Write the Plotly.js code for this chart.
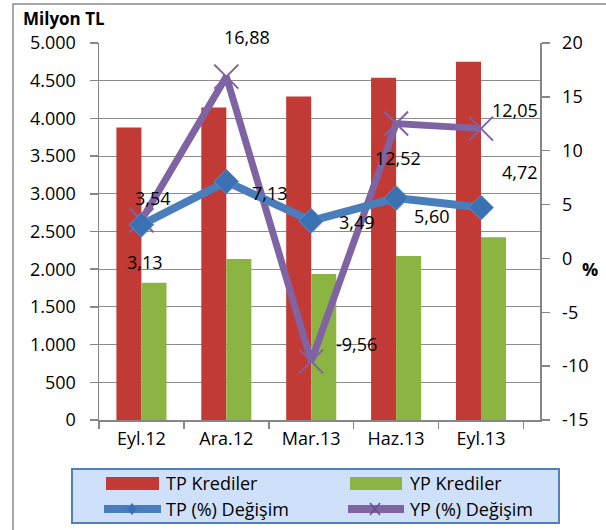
<!DOCTYPE html>
<html>
<head>
<meta charset="utf-8">
<script src="https://cdn.plot.ly/plotly-3.0.1.min.js"></script>
<style>html,body{margin:0;padding:0;background:#fff;}#chart{width:606px;height:530px;}</style>
</head>
<body>
<div id="chart"></div>
<script>
// ---- data ----
const categories = ["Eyl.12", "Ara.12", "Mar.13", "Haz.13", "Eyl.13"];
const tpKrediler = [3880, 4145, 4290, 4540, 4750];
const ypKrediler = [1820, 2135, 1935, 2175, 2425];
const tpDegisim = [3.13, 7.13, 3.49, 5.60, 4.72];
const ypDegisim = [3.54, 16.88, -9.56, 12.52, 12.05];
const leftTickVals = [0, 500, 1000, 1500, 2000, 2500, 3000, 3500, 4000, 4500, 5000];
const leftTickText = ["0", "500", "1.000", "1.500", "2.000", "2.500", "3.000", "3.500", "4.000", "4.500", "5.000"];
const rightTickVals = [-15, -10, -5, 0, 5, 10, 15, 20];
const rightTickText = ["-15", "-10", "-5", "0", "5", "10", "15", "20"];
const seriesNames = ["TP Krediler", "YP Krediler", "TP (%) Değişim", "YP (%) Değişim"];

// ---- styling / layout helpers ----
const W = 606, H = 530;
const M = {l: 99, r: 66, t: 43, b: 110};
const PW = W - M.l - M.r, PH = H - M.t - M.b;
const PX = x => (x - M.l) / PW;
const PY = y => (H - M.b - y) / PH;
const FONT = '"Open Sans", "Liberation Sans", sans-serif';
const RED = '#c23a35', GREEN = '#8cb443', BLUE = '#4a7ebb', PURPLE = '#7f63a3';
const fmt = v => v.toFixed(2).replace('.', ',');

// label offsets (px) for data labels
const tpOff = [[4, 37], [44, 11], [46, 1], [36, 18], [39, -36]];
const ypOff = [[12, -22], [21, -40], [45, -17], [2, 34], [34, -19]];

const traces = [
  {type: 'bar', name: seriesNames[0], x: categories, y: tpKrediler, yaxis: 'y',
   marker: {color: RED}, showlegend: false, hoverinfo: 'skip'},
  {type: 'bar', name: seriesNames[1], x: categories, y: ypKrediler, yaxis: 'y',
   marker: {color: GREEN}, showlegend: false, hoverinfo: 'skip'},
  {type: 'scatter', mode: 'lines+markers', name: seriesNames[3], x: categories, y: ypDegisim, yaxis: 'y2',
   line: {color: PURPLE, width: 7}, marker: {symbol: 'x-thin-open', size: 24, line: {color: PURPLE, width: 2}, color: PURPLE},
   showlegend: false, cliponaxis: false},
  {type: 'scatter', mode: 'lines+markers', name: seriesNames[2], x: categories, y: tpDegisim, yaxis: 'y2',
   line: {color: BLUE, width: 8}, marker: {symbol: 'diamond', size: 19, color: '#3b70b3', line: {color: '#5b8fd0', width: 1}},
   showlegend: false, cliponaxis: false}
];

const annotations = [];
tpDegisim.forEach((v, i) => annotations.push({x: categories[i], y: v, xref: 'x', yref: 'y2', text: fmt(v),
  showarrow: false, xshift: tpOff[i][0], yshift: -tpOff[i][1], font: {family: FONT, size: 18, color: '#000'}}));
ypDegisim.forEach((v, i) => annotations.push({x: categories[i], y: v, xref: 'x', yref: 'y2', text: fmt(v),
  showarrow: false, xshift: ypOff[i][0], yshift: -ypOff[i][1], font: {family: FONT, size: 18, color: '#000'}}));

annotations.push({xref: 'paper', yref: 'paper', x: PX(22), y: PY(19), xanchor: 'left', yanchor: 'middle',
  text: '<b>Milyon TL</b>', showarrow: false, borderpad: 0, font: {family: FONT, size: 17, color: '#000'}});
annotations.push({xref: 'paper', yref: 'paper', x: PX(590), y: PY(269), xanchor: 'center', yanchor: 'middle',
  text: '<b>%</b>', showarrow: false, font: {family: FONT, size: 18, color: '#000'}});

// custom legend
const legPos = [[164, 483], [408, 483], [164, 509], [408, 509]];
seriesNames.forEach((n, i) => annotations.push({xref: 'paper', yref: 'paper', x: PX(legPos[i][0]), y: PY(legPos[i][1]),
  xanchor: 'left', yanchor: 'middle', text: n, showarrow: false, font: {family: FONT, size: 18, color: '#000'}}));

const P = (x, y) => PX(x) + ',' + PY(y);
const shapes = [
  {type: 'rect', xref: 'paper', yref: 'paper', x0: PX(13), x1: PX(625), y0: PY(4), y1: PY(545),
   line: {color: '#8a8a8a', width: 1.5}},
  {type: 'rect', xref: 'paper', yref: 'paper', x0: PX(72), x1: PX(559), y0: PY(469), y1: PY(523),
   fillcolor: '#cfe0fa', line: {color: '#4f81bd', width: 2}},
  {type: 'rect', xref: 'paper', yref: 'paper', x0: PX(106), x1: PX(159), y0: PY(477), y1: PY(490),
   fillcolor: RED, line: {width: 0}},
  {type: 'rect', xref: 'paper', yref: 'paper', x0: PX(350), x1: PX(402), y0: PY(477), y1: PY(490),
   fillcolor: GREEN, line: {width: 0}},
  {type: 'rect', xref: 'paper', yref: 'paper', x0: PX(104), x1: PX(161), y0: PY(505), y1: PY(513),
   fillcolor: BLUE, line: {width: 0}},
  {type: 'path', xref: 'paper', yref: 'paper', path: 'M' + P(127, 509) + 'L' + P(132, 503) + 'L' + P(137, 509) + 'L' + P(132, 515) + 'Z',
   fillcolor: '#3b70b3', line: {width: 0}},
  {type: 'rect', xref: 'paper', yref: 'paper', x0: PX(348), x1: PX(404), y0: PY(505), y1: PY(513),
   fillcolor: PURPLE, line: {width: 0}},
  {type: 'line', xref: 'paper', yref: 'paper', x0: PX(370), y0: PY(503), x1: PX(380), y1: PY(515),
   line: {color: '#684d8e', width: 1.5}},
  {type: 'line', xref: 'paper', yref: 'paper', x0: PX(370), y0: PY(515), x1: PX(380), y1: PY(503),
   line: {color: '#684d8e', width: 1.5}}
];

const axisFont = {family: FONT, size: 18, color: '#000'};
const layout = {
  width: W, height: H, margin: M,
  paper_bgcolor: '#fff', plot_bgcolor: '#fff',
  showlegend: false,
  barmode: 'group', bargap: 0.41, bargroupgap: 0,
  xaxis: {type: 'category', showline: true, linecolor: '#868686', linewidth: 1.5,
    ticks: 'outside', tickson: 'boundaries', ticklen: 7, tickcolor: '#868686', tickwidth: 1.5,
    showgrid: false, tickfont: axisFont, ticklabelstandoff: 2},
  yaxis: {range: [0, 5000], tickvals: leftTickVals, ticktext: leftTickText,
    showline: true, linecolor: '#868686', linewidth: 1.5, ticks: 'outside', ticklen: 8, tickcolor: '#868686', tickwidth: 1.5,
    showgrid: true, gridcolor: '#8c8c8c', gridwidth: 1, zeroline: false, tickfont: axisFont, ticklabelstandoff: 10},
  yaxis2: {range: [-15, 20], overlaying: 'y', side: 'right', tickvals: rightTickVals, ticktext: rightTickText,
    showline: true, linecolor: '#868686', linewidth: 1.5, ticks: 'outside', ticklen: 8, tickcolor: '#868686', tickwidth: 1.5,
    showgrid: false, zeroline: false, tickfont: axisFont, ticklabelstandoff: 9},
  annotations: annotations,
  shapes: shapes
};

Plotly.newPlot('chart', traces, layout, {staticPlot: true, displayModeBar: false});
</script>
</body>
</html>
